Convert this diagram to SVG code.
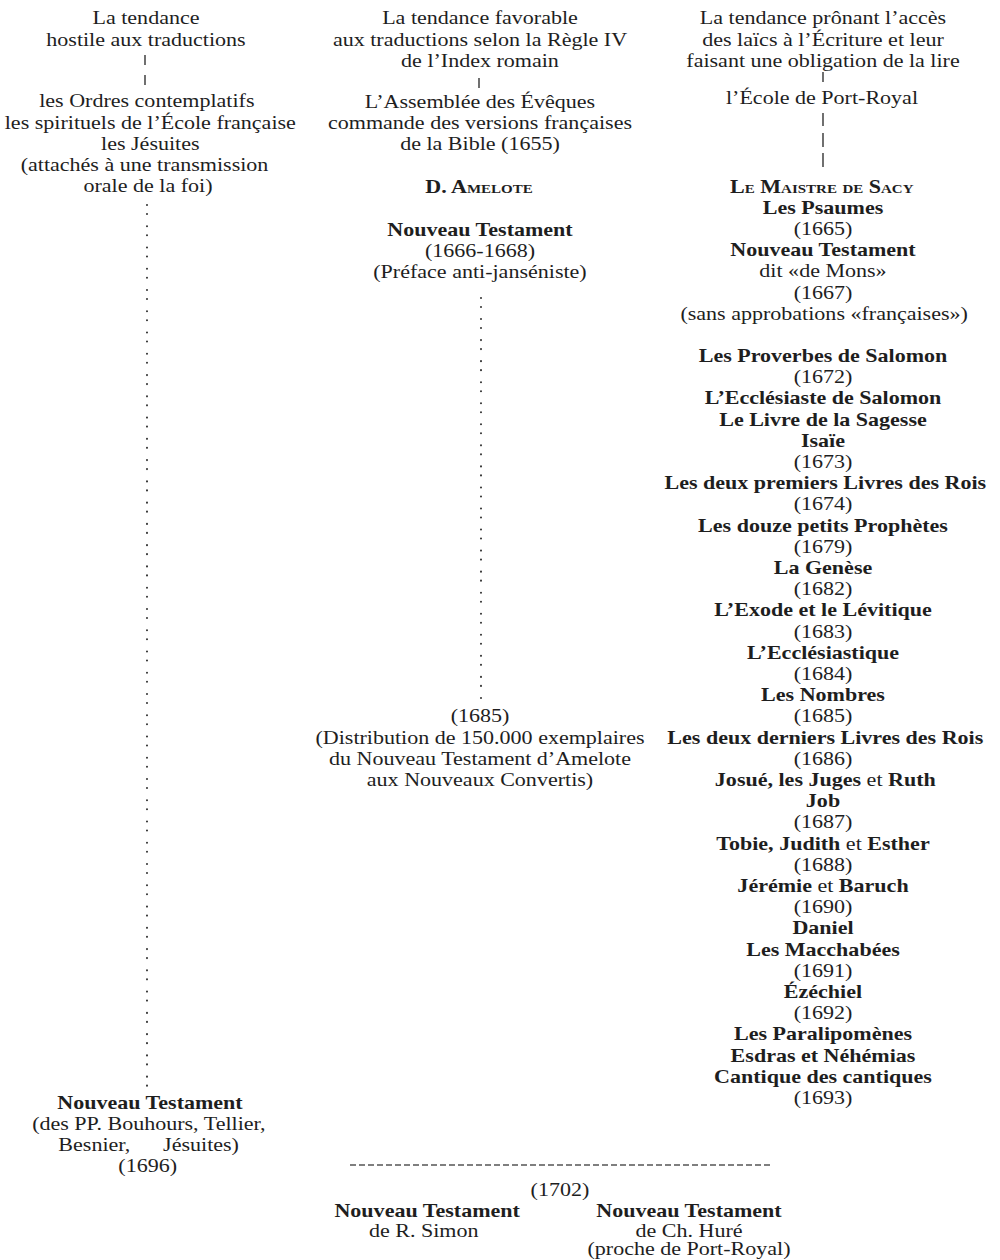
<svg xmlns="http://www.w3.org/2000/svg" width="1000" height="1260" viewBox="0 0 1000 1260">
<style>
text { font-family: "Liberation Serif", "Times New Roman", serif; font-size: 19px; fill: #1e1e1e; text-anchor: middle; }
.b { font-weight: bold; }
.sc { font-variant: small-caps; }
.pipe { stroke: #333; stroke-width: 1.4; fill: none; }
.dots { stroke: #3a3a3a; stroke-width: 2.1; stroke-linecap: round; fill: none; }
.dash { stroke: #555; stroke-width: 1.6; stroke-dasharray: 6 3; fill: none; }
</style>
<rect width="1000" height="1260" fill="#ffffff"/>

<g id="connectors">
  <line class="pipe" x1="145" y1="55" x2="145" y2="65"/>
  <line class="pipe" x1="145" y1="75" x2="145" y2="85"/>
  <line class="pipe" x1="479" y1="78" x2="479" y2="88"/>
  <line class="pipe" x1="823" y1="72" x2="823" y2="82"/>
  <line class="pipe" x1="823" y1="113" x2="823" y2="126"/>
  <line class="pipe" x1="823" y1="133" x2="823" y2="147"/>
  <line class="pipe" x1="823" y1="153" x2="823" y2="167"/>
  <line class="dots" x1="147" y1="205" x2="147" y2="1087" stroke-dasharray="0 9 0 12.26"/>
  <line class="dots" x1="481" y1="298" x2="481" y2="706" stroke-dasharray="0 9 0 12.05"/>
  <line class="dash" x1="350" y1="1165" x2="772" y2="1165"/>
</g>

<g id="left-head" transform="translate(146 0) scale(1.16 1) translate(-146 0)">
  <text x="146" y="24.5">La tendance</text>
  <text x="146" y="45.7">hostile aux traductions</text>
</g>
<g id="left-orders" transform="translate(148 0) scale(1.16 1) translate(-148 0)">
  <text x="147" y="107.5">les Ordres contemplatifs</text>
  <text x="150" y="128.7">les spirituels de l’École française</text>
  <text x="150" y="150">les Jésuites</text>
  <text x="145" y="171.2">(attachés à une transmission</text>
  <text x="148" y="192.4">orale de la foi)</text>
</g>
<g id="left-nt" transform="translate(150 0) scale(1.16 1) translate(-150 0)">
  <text class="b" x="150" y="1109">Nouveau Testament</text>
  <text x="149" y="1130">(des PP. Bouhours, Tellier,</text>
  <text y="1151"><tspan x="102">Besnier,</tspan><tspan x="194">Jésuites)</tspan></text>
  <text x="148" y="1172">(1696)</text>
</g>

<g id="mid-head" transform="translate(480 0) scale(1.16 1) translate(-480 0)">
  <text x="480" y="24.5">La tendance favorable</text>
  <text x="480" y="45.7">aux traductions selon la Règle IV</text>
  <text x="480" y="66.9">de l’Index romain</text>
</g>
<g id="mid-assembly" transform="translate(480 0) scale(1.16 1) translate(-480 0)">
  <text x="480" y="108">L’Assemblée des Évêques</text>
  <text x="480" y="129.2">commande des versions françaises</text>
  <text x="480" y="150.4">de la Bible (1655)</text>
</g>
<g id="mid-amelote" transform="translate(479 0) scale(1.16 1) translate(-479 0)">
  <text class="b sc" x="479" y="192.6">D. Amelote</text>
</g>
<g id="mid-nt" transform="translate(480 0) scale(1.16 1) translate(-480 0)">
  <text class="b" x="480" y="236">Nouveau Testament</text>
  <text x="480" y="257.2">(1666-1668)</text>
  <text x="480" y="278.4">(Préface anti-janséniste)</text>
</g>
<g id="mid-1685" transform="translate(480 0) scale(1.16 1) translate(-480 0)">
  <text x="480" y="722.4">(1685)</text>
  <text x="480" y="743.6">(Distribution de 150.000 exemplaires</text>
  <text x="480" y="764.8">du Nouveau Testament d’Amelote</text>
  <text x="480" y="786">aux Nouveaux Convertis)</text>
</g>

<g id="right-head" transform="translate(823 0) scale(1.16 1) translate(-823 0)">
  <text x="823" y="24.5">La tendance prônant l’accès</text>
  <text x="823" y="45.7">des laïcs à l’Écriture et leur</text>
  <text x="823" y="66.9">faisant une obligation de la lire</text>
</g>
<g id="right-portroyal" transform="translate(822 0) scale(1.16 1) translate(-822 0)">
  <text x="822" y="104">l’École de Port-Royal</text>
</g>
<g id="right-sacy" transform="translate(823 0) scale(1.16 1) translate(-823 0)">
  <text class="b sc" x="822" y="192.6">Le Maistre de Sacy</text>
  <text class="b" x="823" y="213.8">Les Psaumes</text>
  <text x="823" y="235">(1665)</text>
  <text class="b" x="823" y="256.2">Nouveau Testament</text>
  <text x="823" y="277.4">dit «de Mons»</text>
  <text x="823" y="298.6">(1667)</text>
  <text x="824" y="319.8">(sans approbations «françaises»)</text>
</g>
<g id="right-books" transform="translate(823 0) scale(1.16 1) translate(-823 0)">
  <text class="b" x="823" y="362">Les Proverbes de Salomon</text>
  <text x="823" y="383.2">(1672)</text>
  <text class="b" x="823" y="404.4">L’Ecclésiaste de Salomon</text>
  <text class="b" x="823" y="425.6">Le Livre de la Sagesse</text>
  <text class="b" x="823" y="446.8">Isaïe</text>
  <text x="823" y="468">(1673)</text>
  <text class="b" x="825" y="489.2">Les deux premiers Livres des Rois</text>
  <text x="823" y="510.4">(1674)</text>
  <text class="b" x="823" y="531.6">Les douze petits Prophètes</text>
  <text x="823" y="552.8">(1679)</text>
  <text class="b" x="823" y="574">La Genèse</text>
  <text x="823" y="595.2">(1682)</text>
  <text class="b" x="823" y="616.4">L’Exode et le Lévitique</text>
  <text x="823" y="637.6">(1683)</text>
  <text class="b" x="823" y="658.8">L’Ecclésiastique</text>
  <text x="823" y="680">(1684)</text>
  <text class="b" x="823" y="701.2">Les Nombres</text>
  <text x="823" y="722.4">(1685)</text>
  <text class="b" x="825" y="743.6">Les deux derniers Livres des Rois</text>
  <text x="823" y="764.8">(1686)</text>
  <text x="825" y="786"><tspan class="b">Josué, les Juges</tspan> et <tspan class="b">Ruth</tspan></text>
  <text class="b" x="823" y="807.2">Job</text>
  <text x="823" y="828.4">(1687)</text>
  <text x="823" y="849.6"><tspan class="b">Tobie, Judith</tspan> et <tspan class="b">Esther</tspan></text>
  <text x="823" y="870.8">(1688)</text>
  <text x="823" y="892"><tspan class="b">Jérémie</tspan> et <tspan class="b">Baruch</tspan></text>
  <text x="823" y="913.2">(1690)</text>
  <text class="b" x="823" y="934.4">Daniel</text>
  <text class="b" x="823" y="955.6">Les Macchabées</text>
  <text x="823" y="976.8">(1691)</text>
  <text class="b" x="823" y="998">Ézéchiel</text>
  <text x="823" y="1019.2">(1692)</text>
  <text class="b" x="823" y="1040.4">Les Paralipomènes</text>
  <text class="b" x="823" y="1061.6">Esdras et Néhémias</text>
  <text class="b" x="823" y="1082.8">Cantique des cantiques</text>
  <text x="823" y="1104">(1693)</text>
</g>

<g id="bottom-1702" transform="translate(560 0) scale(1.16 1) translate(-560 0)">
  <text x="560" y="1196">(1702)</text>
</g>
<g id="bottom-simon" transform="translate(426 0) scale(1.16 1) translate(-426 0)">
  <text class="b" x="427" y="1217">Nouveau Testament</text>
  <text x="424" y="1237">de R. Simon</text>
</g>
<g id="bottom-hure" transform="translate(689 0) scale(1.16 1) translate(-689 0)">
  <text class="b" x="689" y="1217">Nouveau Testament</text>
  <text x="689" y="1237">de Ch. Huré</text>
  <text x="689" y="1255">(proche de Port-Royal)</text>
</g>
</svg>
